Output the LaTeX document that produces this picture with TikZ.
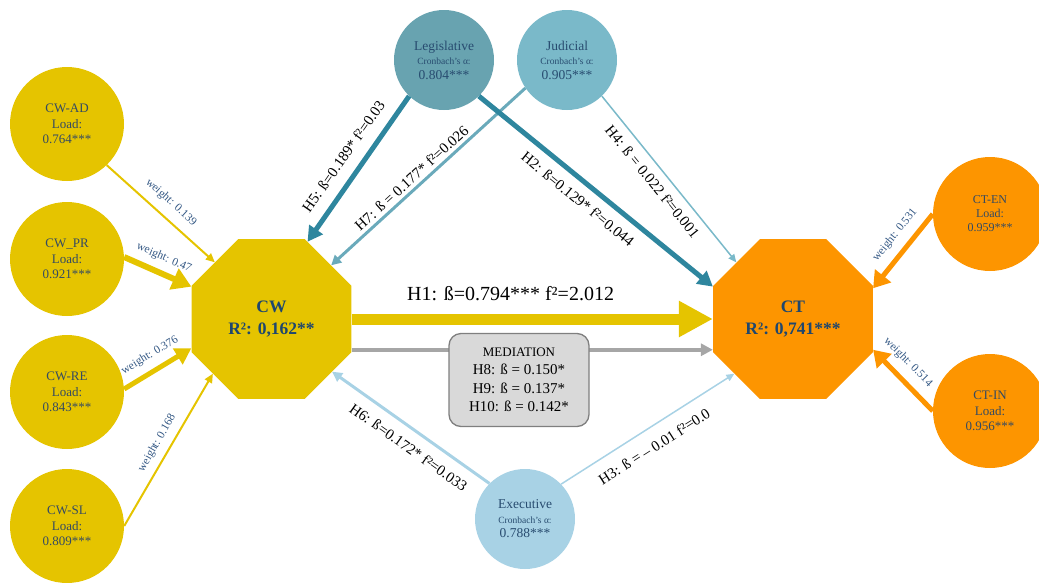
\documentclass[tikz,border=0pt]{standalone}
\usepackage{fontspec}
\setmainfont{Liberation Serif}
\usetikzlibrary{arrows.meta,shapes.geometric}

% palette
\definecolor{cwyellow}{RGB}{229,196,0}
\definecolor{ctorange}{RGB}{253,149,0}
\definecolor{legcol}{RGB}{104,163,176}
\definecolor{judcol}{RGB}{122,185,201}
\definecolor{execol}{RGB}{168,210,229}
\definecolor{darkteal}{RGB}{46,134,158}
\definecolor{midteal}{RGB}{106,170,187}
\definecolor{lightteal}{RGB}{122,185,201}
\definecolor{lightblue}{RGB}{168,210,229}
\definecolor{medgray}{RGB}{166,166,166}
\definecolor{boxfill}{RGB}{217,217,217}
\definecolor{boxline}{RGB}{127,127,127}
\definecolor{circtext}{RGB}{52,74,98}
\definecolor{govtext}{RGB}{40,76,112}
\definecolor{octtext}{RGB}{31,71,110}
\definecolor{wtext}{RGB}{52,88,132}

\newcommand\fsz[2]{\fontsize{#1}{#2}\selectfont}

\begin{document}
\begin{tikzpicture}[x=1pt,y=-1pt,
  ind/.style={circle, minimum size=114pt, inner sep=0pt, align=center,
              text=circtext, font=\fsz{13}{15.5}},
  gov/.style={circle, minimum size=100pt, inner sep=0pt, align=center,
              text=govtext, font=\fsz{13.5}{14.5}},
  octa/.style={regular polygon, regular polygon sides=8, minimum size=173pt,
               inner sep=0pt, align=center, text=octtext,
               font=\bfseries\fsz{17.5}{22}},
  medbox/.style={draw=boxline, fill=boxfill, line width=1.3pt,
                 rounded corners=12pt, minimum width=140pt, minimum height=93pt,
                 align=center, font=\fsz{15}{18.5}},
  wlab/.style={sloped, text=wtext, font=\fsz{11.5}{13}, inner sep=2pt},
  hlab/.style={sloped, text=black, font=\fsz{15}{17}, inner sep=2pt},
  arrowhd/.style 2 args={-{Triangle[length=#1pt,width=#2pt]}},
]
\useasboundingbox (0,0) rectangle (1039,582);

% indicator circles
\node[ind, fill=cwyellow] (ad) at (67,124) {CW-AD\\Load:\\0.764***};
\node[ind, fill=cwyellow] (pr) at (67,259) {CW\_PR\\Load:\\0.921***};
\node[ind, fill=cwyellow] (re) at (67,392) {CW-RE\\Load:\\0.843***};
\node[ind, fill=cwyellow] (sl) at (67,526) {CW-SL\\Load:\\0.809***};
\node[ind, fill=ctorange, font=\fsz{12}{14}] (cten) at (990,214) {CT-EN\\Load:\\0.959***};
\node[ind, fill=ctorange] (ctin) at (990,411) {CT-IN\\Load:\\0.956***};

% branches of government
\node[gov, fill=legcol] (leg) at (444,60)
  {Legislative\\{\fsz{9.5}{11}Cronbach’s α:}\\0.804***};
\node[gov, fill=judcol] (jud) at (567,60)
  {Judicial\\{\fsz{9.5}{11}Cronbach’s α:}\\0.905***};
\node[gov, fill=execol] (exe) at (525,519)
  {Executive\\{\fsz{9.5}{11}Cronbach’s α:}\\0.788***};

% constructs
\node[octa, fill=cwyellow] (cw) at (271.5,319) {CW\\R²: 0,162**};
\node[octa, fill=ctorange] (ct) at (793,319) {CT\\R²: 0,741***};

% outer weights
\draw[cwyellow, line width=2pt, arrowhd={9}{8}] (ad.-46) -- (cw.135)
  node[wlab, pos=.5, above, outer sep=8pt] {weight: 0.139};
\draw[cwyellow, line width=6pt, arrowhd={19}{22}] (pr.2) -- (cw.158.6)
  node[wlab, pos=.5, above, outer sep=8pt] {weight: 0.47};
\draw[cwyellow, line width=5pt, arrowhd={16}{18}] (re.3) -- (cw.200)
  node[wlab, pos=.5, above, outer sep=8pt] {weight: 0.376};
\draw[cwyellow, line width=2pt, arrowhd={9}{8}] (sl.0) -- (cw.223)
  node[wlab, pos=.5, above, outer sep=6pt] {weight: 0.168};
\draw[ctorange, line width=5pt, arrowhd={16}{20}] (cten.180) -- (ct.21.5)
  node[wlab, pos=.42, above, outer sep=9pt] {weight: 0.531};
\draw[ctorange, line width=5pt, arrowhd={16}{20}] (ctin.180) -- (ct.-21)
  node[wlab, pos=.61, above, outer sep=9pt] {weight: 0.514};

% structural paths
\draw[midteal, line width=3pt, arrowhd={10}{10}] (jud.214) -- (cw.42)
  node[hlab, pos=.55, above, outer sep=3pt] {H7: ß = 0.177* f²=0.026};
\draw[darkteal, line width=5pt, arrowhd={15}{16}] (leg.226) -- (cw.65)
  node[hlab, pos=.49, above, outer sep=12pt] {H5: ß=0.189* f²=0.03};
\draw[darkteal, line width=5pt, arrowhd={15}{16}] (leg.314) -- (ct.158.7)
  node[hlab, pos=.47, below, outer sep=10pt] {H2: ß=0.129* f²=0.044};
\draw[lightteal, line width=1.5pt, arrowhd={8}{7}] (jud.314) -- (ct.135.7)
  node[hlab, pos=.46, below, outer sep=7pt] {H4: ß = 0.022 f²=0.001};
\draw[lightblue, line width=3pt, arrowhd={10}{10}] (exe.135) -- (cw.319.5)
  node[hlab, pos=.45, below, outer sep=10pt] {H6: ß=0.172* f²=0.033};
\draw[lightblue, line width=1.5pt, arrowhd={8}{7}] (exe.44) -- (ct.223.7)
  node[hlab, pos=.48, below, outer sep=11pt] {H3: ß = \textendash\ 0.01 f²=0.0};

% main effect and mediation
\draw[cwyellow, line width=11pt, arrowhd={34}{34}] (cw.east) -- (cw.east -| ct.west)
  node[pos=.44, above, outer sep=15pt, text=black, font=\fsz{20}{24}] {H1: ß=0.794*** f²=2.012};
\draw[medgray, line width=3.5pt, arrowhd={12}{12}] (cw.-21) -- (cw.-21 -| ct.west);

\node[medbox] (med) at (519,380)
  {{\fsz{13}{18.5}MEDIATION}\\H8: ß = 0.150*\\H9: ß = 0.137*\\H10: ß = 0.142*};
\end{tikzpicture}
\end{document}
